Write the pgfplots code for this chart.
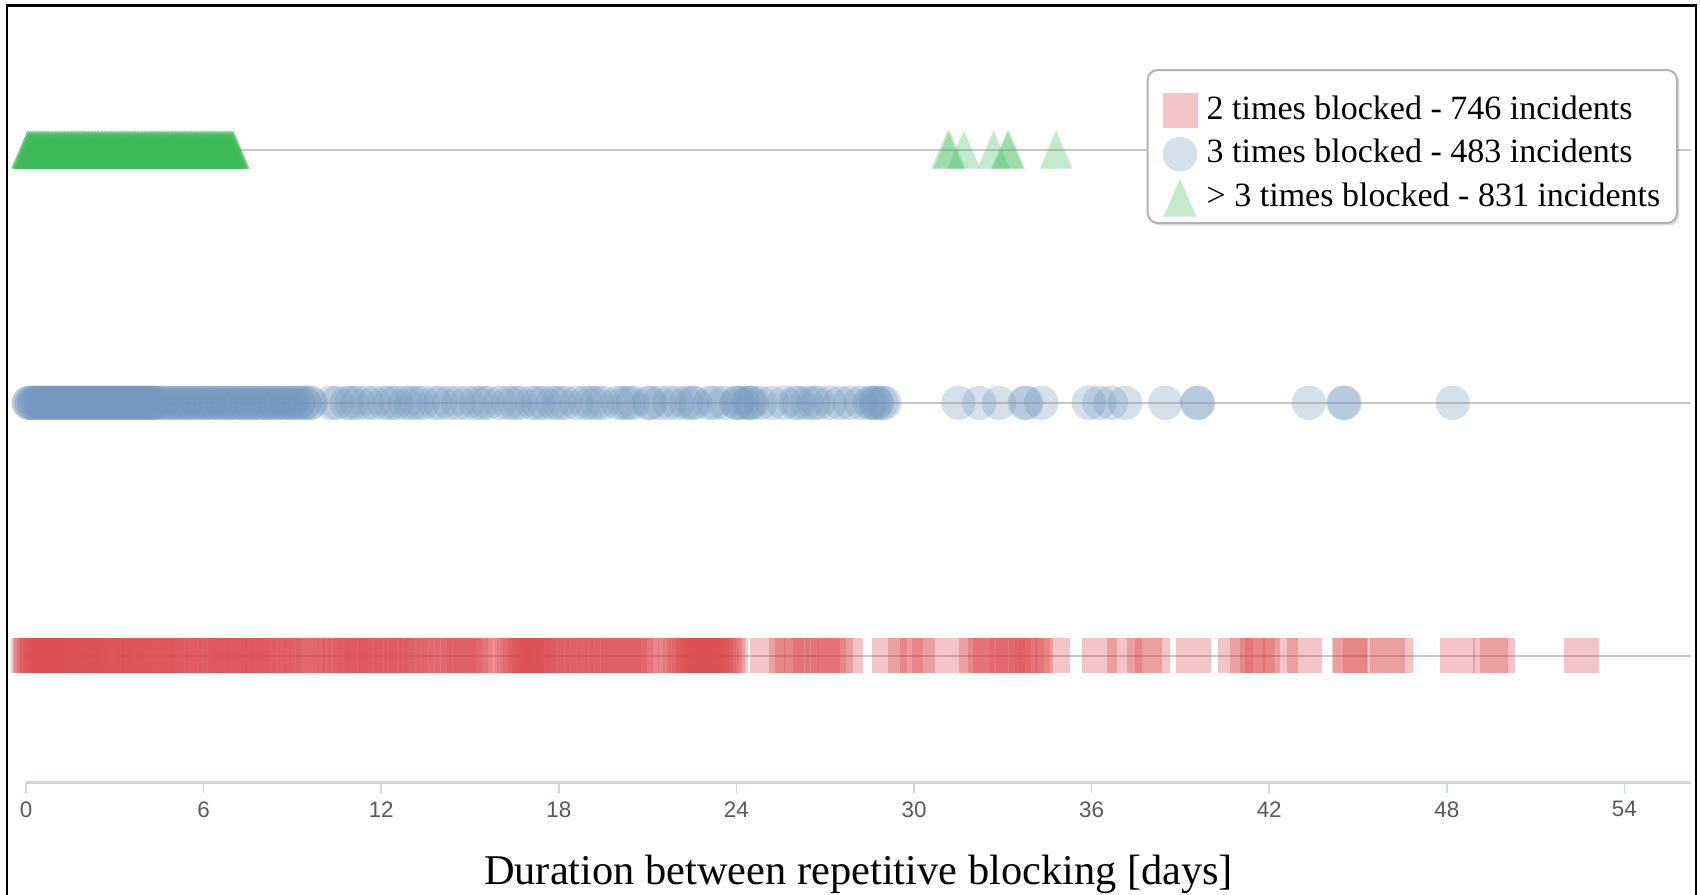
\documentclass[border=0pt]{standalone}
\usepackage{pgfplots}
\pgfplotsset{compat=1.18}
\usepackage{fontspec}
\setmainfont{Liberation Serif}
\newfontfamily\tickfont{Liberation Sans}
\usetikzlibrary{shadows}
\definecolor{redc}{RGB}{221,80,84}
\definecolor{bluec}{RGB}{115,151,190}
\definecolor{greenc}{RGB}{61,186,88}
\definecolor{axisc}{RGB}{204,214,235}
\definecolor{gridc}{RGB}{200,200,200}
\definecolor{tickc}{RGB}{90,90,90}
\pgfdeclareplotmark{htri}{%
 \pgfpathmoveto{\pgfqpoint{0pt}{4.75pt}}%
 \pgfpathlineto{\pgfqpoint{-4.05pt}{-4.75pt}}%
 \pgfpathlineto{\pgfqpoint{4.05pt}{-4.75pt}}%
 \pgfpathclose\pgfusepathqfill}
\pgfdeclareplotmark{fsq}{%
 \pgfpathrectangle{\pgfqpoint{-4.375pt}{-4.375pt}}{\pgfqpoint{8.75pt}{8.75pt}}\pgfusepathqfill}
\pgfdeclareplotmark{fcirc}{%
 \pgfpathcircle{\pgforigin}{4.3pt}\pgfusepathqfill}
\pgfplotsset{mylegimg/.style={legend image code/.code={\draw[##1, sharp corners] plot coordinates {(0pt,-2pt)};}}}
\begin{document}
\begin{tikzpicture}
\begin{axis}[
 at={(0,0)}, anchor=south west,
 scale only axis, width=416.25pt, height=189.9pt,
 xmin=0, xmax=56.25, ymin=-0.5, ymax=2.5,
 clip=false,
 separate axis lines,
 axis x line*=bottom, axis y line*=left,
 y axis line style={draw=none},
 x axis line style={draw=axisc, line width=0.6pt, -},
 ytick={0,1,2}, yticklabels={}, ymajorgrids,
 ytick style={draw=none},
 grid style={draw=gridc, line width=0.5pt},
 xtick={0,6,...,54},
 xtick style={draw=axisc, line width=0.4pt},
 tick align=outside, major tick length=2.5pt,
 xticklabel style={font=\tickfont\fontsize{5.6}{6}\selectfont, text=tickc, yshift=1.3pt},
 /pgf/number format/assume math mode=true,
 xlabel={Duration between repetitive blocking [days]},
 xlabel style={font=\fontsize{10.6}{12}\selectfont, at={(axis description cs:0.5,0)}, anchor=base, yshift=-25.5pt},
 legend cell align=left,
 legend style={at={(rel axis cs:0.9922,0.9394)}, anchor=north east, draw=gray!60, line width=0.5pt,
   rounded corners=2.5pt, fill=white, font=\fontsize{8.5}{10}\selectfont,
   inner xsep=3.7pt, inner ysep=1.6pt, row sep=-2.35pt,
   nodes={inner sep=0.5pt, text height=10.2pt, text depth=2pt},
   /tikz/every odd column/.append style={column sep=1.8pt},
   drop shadow={shadow xshift=0.6pt, shadow yshift=-0.6pt, opacity=0.25}},
]
\addplot[only marks, mark=fsq, mark options={fill=redc, fill opacity=0.33}, mylegimg]
coordinates {(0.1,0)(0.15,0)(0.2,0)(0.3,0)(0.35,0)(0.4,0)(0.5,0)(0.6,0)(0.65,0)(0.7,0)(0.8,0)(0.9,0)(1.0,0)(1.1,0)(1.2,0)(1.3,0)(1.4,0)(1.5,0)(1.6,0)(1.7,0)(1.8,0)(1.9,0)(2.0,0)(2.1,0)(2.2,0)(2.35,0)(2.5,0)(2.6,0)(2.75,0)(2.9,0)(3.0,0)(3.15,0)(3.3,0)(3.45,0)(3.6,0)(3.7,0)(3.85,0)(4.0,0)(4.15,0)(4.3,0)(4.45,0)(4.6,0)(4.75,0)(4.9,0)(5.05,0)(5.2,0)(5.35,0)(5.5,0)(5.8,0)(5.95,0)(6.1,0)(6.25,0)(6.4,0)(6.6,0)(6.75,0)(6.9,0)(7.05,0)(7.2,0)(7.4,0)(7.55,0)(7.7,0)(7.85,0)(8.0,0)(8.2,0)(8.35,0)(8.5,0)(8.7,0)(8.9,0)(9.1,0)(9.3,0)(9.5,0)(9.7,0)(10.1,0)(10.3,0)(10.45,0)(10.6,0)(10.8,0)(10.95,0)(11.1,0)(11.3,0)(11.45,0)(11.6,0)(11.8,0)(11.95,0)(12.1,0)(12.3,0)(12.5,0)(12.7,0)(12.85,0)(13.0,0)(13.2,0)(13.4,0)(13.8,0)(14.0,0)(14.2,0)(14.4,0)(14.6,0)(14.8,0)(15.0,0)(15.2,0)(15.4,0)(15.6,0)(16.4,0)(16.5,0)(16.6,0)(16.7,0)(16.8,0)(16.9,0)(17.0,0)(17.1,0)(17.2,0)(17.3,0)(17.45,0)(17.6,0)(17.8,0)(18.0,0)(18.2,0)(18.4,0)(18.6,0)(18.8,0)(19.0,0)(19.2,0)(19.4,0)(19.6,0)(19.8,0)(20.0,0)(20.2,0)(20.4,0)(20.6,0)(20.8,0)(21.0,0)(21.2,0)(21.95,0)(22.1,0)(22.2,0)(22.3,0)(22.4,0)(22.5,0)(22.6,0)(22.7,0)(22.8,0)(22.9,0)(23.0,0)(23.1,0)(23.2,0)(23.3,0)(23.4,0)(23.5,0)(23.6,0)(23.7,0)(23.8,0)
(25.05,0)(25.7,0)(25.9,0)(26.2,0)(26.5,0)(26.9,0)(27.1,0)(27.35,0)(27.69,0)
(29.17,0)(29.71,0)(30.12,0)(30.52,0)(31.7,0)(32.1,0)(32.4,0)(32.6,0)(32.9,0)(33.15,0)(33.35,0)(33.6,0)(33.8,0)(34.0,0)(34.1,0)(34.68,0)(36.27,0)(37.1,0)(37.79,0)(38.05,0)(39.44,0)(40.86,0)(41.25,0)(41.59,0)(41.76,0)(42.38,0)(43.19,0)(44.71,0)(44.75,0)(45.08,0)(46.0,0)(46.27,0)(48.36,0)(49.48,0)(49.71,0)(52.55,0)};
\addlegendentry{2 times blocked - 746 incidents}
\addplot[only marks, mark=fcirc, mark options={fill=bluec, fill opacity=0.5}, forget plot]
coordinates {(0.1,1)(0.2,1)(0.3,1)(0.4,1)(0.5,1)(0.6,1)(0.7,1)(0.8,1)(0.9,1)(1.0,1)(1.1,1)(1.2,1)(1.3,1)(1.4,1)(1.5,1)(1.6,1)(1.7,1)(1.8,1)(1.9,1)(2.0,1)(2.1,1)(2.2,1)(2.3,1)(2.4,1)(2.5,1)(2.6,1)(2.7,1)(2.8,1)(2.9,1)(3.0,1)(3.1,1)(3.2,1)(3.3,1)(3.4,1)(3.5,1)(3.6,1)(3.7,1)(3.8,1)(3.9,1)(4.0,1)(4.1,1)(4.2,1)(4.3,1)(4.4,1)
(4.6,1)(4.8,1)(5.0,1)(5.2,1)(5.4,1)(5.6,1)(5.8,1)(6.0,1)(6.2,1)(6.4,1)(6.6,1)(6.8,1)(7.0,1)(7.2,1)(7.4,1)(7.6,1)(7.8,1)(8.0,1)(8.2,1)(8.4,1)(8.6,1)(8.8,1)(9.0,1)(9.2,1)(9.4,1)(9.6,1)};
\addplot[only marks, mark=fcirc, mark options={fill=bluec, fill opacity=0.3}, mylegimg]
coordinates {(10.3,1)(10.5,1)(10.84,1)(11.0,1)(11.2,1)(11.5,1)(11.76,1)(12.1,1)(12.3,1)(12.5,1)(12.8,1)(13.0,1)(13.2,1)(13.4,1)(13.8,1)(14.0,1)(14.3,1)(14.6,1)(14.9,1)(15.2,1)(15.4,1)(15.6,1)(16.0,1)(16.3,1)(16.5,1)(16.7,1)(17.1,1)(17.3,1)(17.5,1)(17.8,1)(18.0,1)(18.2,1)(18.6,1)(18.9,1)(19.1,1)(19.3,1)(19.5,1)(20.0,1)(20.2,1)(20.36,1)(20.5,1)(21.03,1)(21.1,1)(21.4,1)(21.72,1)(22.0,1)(22.3,1)(22.5,1)(22.6,1)(23.1,1)(23.27,1)(23.6,1)(24.0,1)(24.05,1)(24.2,1)(24.4,1)(24.45,1)(24.53,1)(24.8,1)(25.2,1)(25.6,1)(25.98,1)(26.1,1)(26.38,1)(26.6,1)(26.76,1)(27.15,1)(27.5,1)(27.83,1)(28.2,1)(28.5,1)(28.6,1)(28.7,1)(28.75,1)(28.9,1)(29.0,1)
(31.5,1)(32.2,1)(32.87,1)(33.74,1)(33.8,1)(34.3,1)(35.9,1)(36.26,1)(36.65,1)(37.13,1)(38.49,1)(39.56,1)(39.6,1)(43.34,1)(44.5,1)(44.55,1)(48.2,1)};
\addlegendentry{3 times blocked - 483 incidents}
\addplot[only marks, mark=htri, mark options={fill=greenc, fill opacity=0.7}, forget plot]
coordinates {(0.05,2)(0.1,2)(0.15,2)(0.2,2)(0.25,2)(0.3,2)(0.35,2)(0.4,2)(0.45,2)(0.5,2)(0.55,2)(0.6,2)(0.65,2)(0.7,2)(0.75,2)(0.8,2)(0.85,2)(0.9,2)(0.95,2)(1.0,2)(1.05,2)(1.1,2)(1.15,2)(1.2,2)(1.25,2)(1.3,2)(1.35,2)(1.4,2)(1.45,2)(1.5,2)(1.55,2)(1.6,2)(1.65,2)(1.7,2)(1.75,2)(1.8,2)(1.85,2)(1.9,2)(1.95,2)(2.0,2)(2.05,2)(2.1,2)(2.15,2)(2.2,2)(2.25,2)(2.3,2)(2.35,2)(2.4,2)(2.45,2)(2.5,2)(2.55,2)(2.6,2)(2.65,2)(2.7,2)(2.75,2)(2.8,2)(2.85,2)(2.9,2)(2.95,2)(3.0,2)(3.05,2)(3.1,2)(3.15,2)(3.2,2)(3.25,2)(3.3,2)(3.35,2)(3.4,2)(3.45,2)(3.5,2)(3.55,2)(3.6,2)(3.65,2)(3.7,2)(3.75,2)(3.8,2)(3.85,2)(3.9,2)(3.95,2)(4.0,2)(4.05,2)(4.1,2)(4.15,2)(4.2,2)(4.25,2)(4.3,2)(4.35,2)(4.4,2)(4.45,2)(4.5,2)(4.55,2)(4.6,2)(4.65,2)(4.7,2)(4.75,2)(4.8,2)(4.85,2)(4.9,2)(4.95,2)(5.0,2)(5.05,2)(5.1,2)(5.15,2)(5.2,2)(5.25,2)(5.3,2)(5.35,2)(5.4,2)(5.45,2)(5.5,2)(5.55,2)(5.6,2)(5.65,2)(5.7,2)(5.75,2)(5.8,2)(5.85,2)(5.9,2)(5.95,2)(6.0,2)(6.05,2)(6.1,2)(6.15,2)(6.2,2)(6.25,2)(6.3,2)(6.35,2)(6.4,2)(6.45,2)(6.5,2)(6.55,2)(6.6,2)(6.65,2)(6.7,2)(6.75,2)(6.8,2)(6.85,2)(6.9,2)(6.95,2)(7.0,2)};
\addplot[only marks, mark=htri, mark options={fill=greenc, fill opacity=0.3}, mylegimg]
coordinates {(31.13,2)(31.2,2)(31.68,2)(32.69,2)(33.15,2)(33.2,2)(34.8,2)};
\addlegendentry{\textgreater\ 3 times blocked - 831 incidents}
\end{axis}
\draw[black, line width=0.6pt] (-4.75pt,-30pt) -- (-4.75pt,194.3pt) -- (417.5pt,194.3pt) -- (417.5pt,-30pt);
\pgfresetboundingbox
\useasboundingbox (-6.5pt,-28.1pt) rectangle (418.5pt,195.65pt);
\end{tikzpicture}
\end{document}
